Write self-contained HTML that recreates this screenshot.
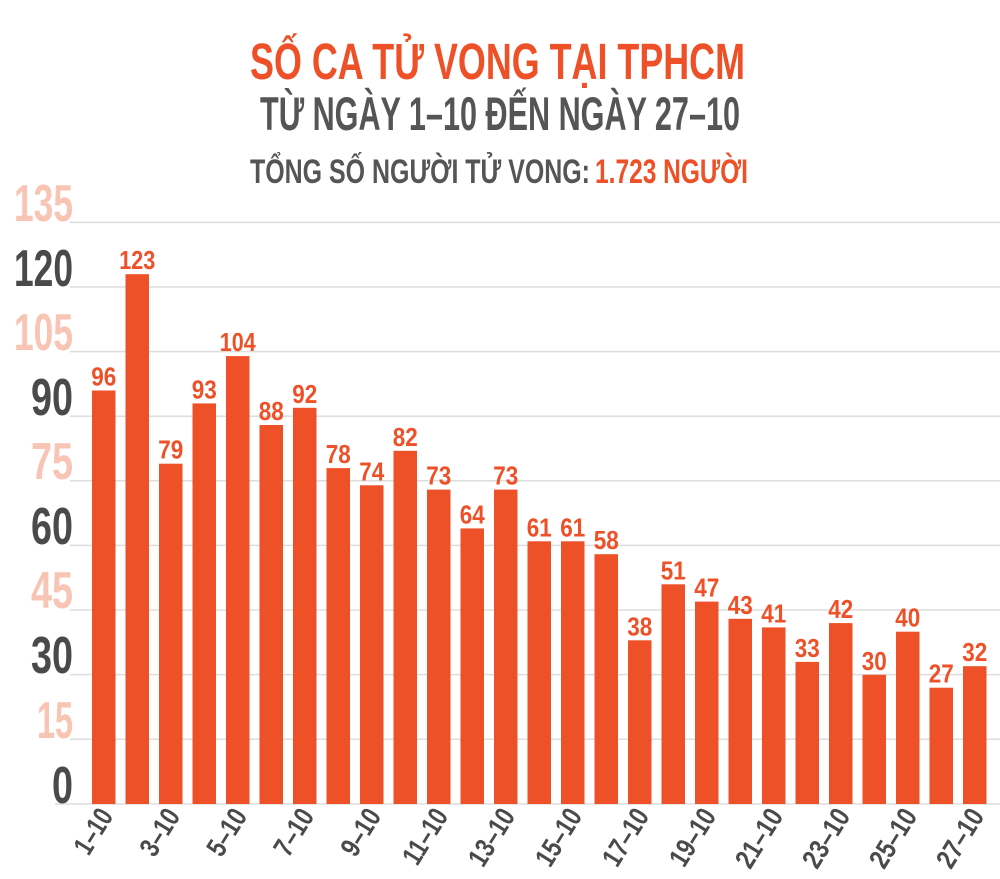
<!DOCTYPE html>
<html><head><meta charset="utf-8"><style>
html,body{margin:0;padding:0;background:#fff;}
svg{display:block;font-family:"Liberation Sans",sans-serif;font-weight:bold;}
</style></head><body>
<svg width="1000" height="879" viewBox="0 0 1000 879" xmlns="http://www.w3.org/2000/svg">
<rect width="1000" height="879" fill="#fff"/>
<text x="250" y="79" font-size="51" fill="#ee5028" textLength="495" lengthAdjust="spacingAndGlyphs">SỐ CA TỬ VONG TẠI TPHCM</text>
<text x="260" y="130" font-size="47" fill="#555" textLength="480" lengthAdjust="spacingAndGlyphs">TỪ NGÀY 1–10 ĐẾN NGÀY 27–10</text>
<text x="250" y="183" font-size="34" fill="#555" textLength="340" lengthAdjust="spacingAndGlyphs">TỔNG SỐ NGƯỜI TỬ VONG:</text>
<text x="595" y="183" font-size="34" fill="#ee5028" textLength="153" lengthAdjust="spacingAndGlyphs">1.723 NGƯỜI</text>
<g stroke="#dddddd" stroke-width="1.5">
<line x1="70" x2="1000" y1="222.4" y2="222.4"/>
<line x1="70" x2="1000" y1="287" y2="287"/>
<line x1="70" x2="1000" y1="351.6" y2="351.6"/>
<line x1="70" x2="1000" y1="416.2" y2="416.2"/>
<line x1="70" x2="1000" y1="480.8" y2="480.8"/>
<line x1="70" x2="1000" y1="545.4" y2="545.4"/>
<line x1="70" x2="1000" y1="610" y2="610"/>
<line x1="70" x2="1000" y1="674.6" y2="674.6"/>
<line x1="70" x2="1000" y1="739.2" y2="739.2"/>
<line x1="55" x2="1000" y1="804" y2="804"/>
</g>
<g font-size="52" text-anchor="end">
<text x="73" y="221" fill="#f8c4b4" textLength="59" lengthAdjust="spacingAndGlyphs">135</text>
<text x="73" y="286" fill="#4a4a4a" textLength="59" lengthAdjust="spacingAndGlyphs">120</text>
<text x="73" y="350" fill="#f8c4b4" textLength="59" lengthAdjust="spacingAndGlyphs">105</text>
<text x="73" y="415" fill="#4a4a4a" textLength="42" lengthAdjust="spacingAndGlyphs">90</text>
<text x="73" y="479" fill="#f8c4b4" textLength="42" lengthAdjust="spacingAndGlyphs">75</text>
<text x="73" y="544" fill="#4a4a4a" textLength="42" lengthAdjust="spacingAndGlyphs">60</text>
<text x="73" y="608" fill="#f8c4b4" textLength="42" lengthAdjust="spacingAndGlyphs">45</text>
<text x="73" y="673" fill="#4a4a4a" textLength="42" lengthAdjust="spacingAndGlyphs">30</text>
<text x="73" y="738" fill="#f8c4b4" textLength="36" lengthAdjust="spacingAndGlyphs">15</text>
<text x="73" y="803" fill="#4a4a4a" textLength="21" lengthAdjust="spacingAndGlyphs">0</text>
</g>
<g fill="#ee5028">
<rect x="92" y="390.5" width="23.5" height="413.5"/>
<rect x="125.5" y="274.2" width="23.5" height="529.8"/>
<rect x="159" y="463.7" width="23.5" height="340.3"/>
<rect x="192.5" y="403.4" width="23.5" height="400.6"/>
<rect x="226" y="356.1" width="23.5" height="447.9"/>
<rect x="259.5" y="425" width="23.5" height="379"/>
<rect x="293" y="407.8" width="23.5" height="396.2"/>
<rect x="326.5" y="468.1" width="23.5" height="335.9"/>
<rect x="360" y="485.3" width="23.5" height="318.7"/>
<rect x="393.5" y="450.8" width="23.5" height="353.2"/>
<rect x="427" y="489.6" width="23.5" height="314.4"/>
<rect x="460.5" y="528.4" width="23.5" height="275.6"/>
<rect x="494" y="489.6" width="23.5" height="314.4"/>
<rect x="527.5" y="541.3" width="23.5" height="262.7"/>
<rect x="561" y="541.3" width="23.5" height="262.7"/>
<rect x="594.5" y="554.2" width="23.5" height="249.8"/>
<rect x="628" y="640.3" width="23.5" height="163.7"/>
<rect x="661.5" y="584.3" width="23.5" height="219.7"/>
<rect x="695" y="601.6" width="23.5" height="202.4"/>
<rect x="728.5" y="618.8" width="23.5" height="185.2"/>
<rect x="762" y="627.4" width="23.5" height="176.6"/>
<rect x="795.5" y="661.9" width="23.5" height="142.1"/>
<rect x="829" y="623.1" width="23.5" height="180.9"/>
<rect x="862.5" y="674.8" width="23.5" height="129.2"/>
<rect x="896" y="631.7" width="23.5" height="172.3"/>
<rect x="929.5" y="687.7" width="23.5" height="116.3"/>
<rect x="963" y="666.2" width="23.5" height="137.8"/>
</g>
<g fill="#ee5028" font-size="26" text-anchor="middle">
<text x="103.8" y="385.5" textLength="25" lengthAdjust="spacingAndGlyphs">96</text>
<text x="137.3" y="269.2" textLength="36" lengthAdjust="spacingAndGlyphs">123</text>
<text x="170.8" y="458.7" textLength="25" lengthAdjust="spacingAndGlyphs">79</text>
<text x="204.3" y="398.4" textLength="25" lengthAdjust="spacingAndGlyphs">93</text>
<text x="237.8" y="351.1" textLength="36" lengthAdjust="spacingAndGlyphs">104</text>
<text x="271.3" y="420" textLength="25" lengthAdjust="spacingAndGlyphs">88</text>
<text x="304.8" y="402.8" textLength="25" lengthAdjust="spacingAndGlyphs">92</text>
<text x="338.3" y="463.1" textLength="25" lengthAdjust="spacingAndGlyphs">78</text>
<text x="371.8" y="480.3" textLength="25" lengthAdjust="spacingAndGlyphs">74</text>
<text x="405.3" y="445.8" textLength="25" lengthAdjust="spacingAndGlyphs">82</text>
<text x="438.8" y="484.6" textLength="25" lengthAdjust="spacingAndGlyphs">73</text>
<text x="472.3" y="523.4" textLength="25" lengthAdjust="spacingAndGlyphs">64</text>
<text x="505.8" y="484.6" textLength="25" lengthAdjust="spacingAndGlyphs">73</text>
<text x="539.3" y="536.3" textLength="25" lengthAdjust="spacingAndGlyphs">61</text>
<text x="572.8" y="536.3" textLength="25" lengthAdjust="spacingAndGlyphs">61</text>
<text x="606.3" y="549.2" textLength="25" lengthAdjust="spacingAndGlyphs">58</text>
<text x="639.8" y="635.3" textLength="25" lengthAdjust="spacingAndGlyphs">38</text>
<text x="673.3" y="579.3" textLength="25" lengthAdjust="spacingAndGlyphs">51</text>
<text x="706.8" y="596.6" textLength="25" lengthAdjust="spacingAndGlyphs">47</text>
<text x="740.3" y="613.8" textLength="25" lengthAdjust="spacingAndGlyphs">43</text>
<text x="773.8" y="622.4" textLength="25" lengthAdjust="spacingAndGlyphs">41</text>
<text x="807.3" y="656.9" textLength="25" lengthAdjust="spacingAndGlyphs">33</text>
<text x="840.8" y="618.1" textLength="25" lengthAdjust="spacingAndGlyphs">42</text>
<text x="874.3" y="669.8" textLength="25" lengthAdjust="spacingAndGlyphs">30</text>
<text x="907.8" y="626.7" textLength="25" lengthAdjust="spacingAndGlyphs">40</text>
<text x="941.3" y="682.7" textLength="25" lengthAdjust="spacingAndGlyphs">27</text>
<text x="974.8" y="661.2" textLength="25" lengthAdjust="spacingAndGlyphs">32</text>
</g>
<g fill="#4a4a4a" font-size="28" text-anchor="end">
<text transform="translate(114,816) rotate(-58)" textLength="48" lengthAdjust="spacingAndGlyphs">1–10</text>
<text transform="translate(181,816) rotate(-58)" textLength="50" lengthAdjust="spacingAndGlyphs">3–10</text>
<text transform="translate(248,816) rotate(-58)" textLength="50" lengthAdjust="spacingAndGlyphs">5–10</text>
<text transform="translate(315,816) rotate(-58)" textLength="50" lengthAdjust="spacingAndGlyphs">7–10</text>
<text transform="translate(382,816) rotate(-58)" textLength="50" lengthAdjust="spacingAndGlyphs">9–10</text>
<text transform="translate(449,816) rotate(-58)" textLength="60" lengthAdjust="spacingAndGlyphs">11–10</text>
<text transform="translate(516,816) rotate(-58)" textLength="62" lengthAdjust="spacingAndGlyphs">13–10</text>
<text transform="translate(583,816) rotate(-58)" textLength="62" lengthAdjust="spacingAndGlyphs">15–10</text>
<text transform="translate(650,816) rotate(-58)" textLength="62" lengthAdjust="spacingAndGlyphs">17–10</text>
<text transform="translate(717,816) rotate(-58)" textLength="62" lengthAdjust="spacingAndGlyphs">19–10</text>
<text transform="translate(784,816) rotate(-58)" textLength="64" lengthAdjust="spacingAndGlyphs">21–10</text>
<text transform="translate(851,816) rotate(-58)" textLength="64" lengthAdjust="spacingAndGlyphs">23–10</text>
<text transform="translate(918,816) rotate(-58)" textLength="64" lengthAdjust="spacingAndGlyphs">25–10</text>
<text transform="translate(985,816) rotate(-58)" textLength="64" lengthAdjust="spacingAndGlyphs">27–10</text>
</g>
</svg>
</body></html>
